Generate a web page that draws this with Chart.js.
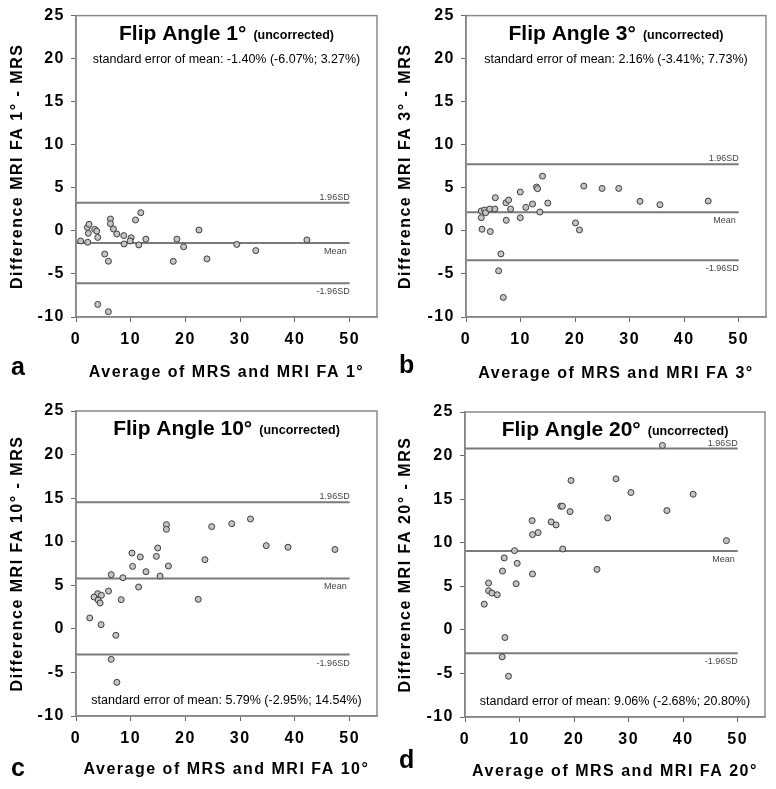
<!DOCTYPE html>
<html>
<head>
<meta charset="utf-8">
<script src="https://cdn.jsdelivr.net/npm/chart.js@4.4.1/dist/chart.umd.min.js"></script>
<style>
  body { margin: 0; background: #fff; }
  #wrap { position: relative; width: 776px; height: 789px; }
  canvas { position: absolute; }
</style>
</head>
<body>
<div id="wrap">
  <canvas id="chartA" width="388" height="395" style="left:0;top:0"></canvas>
  <canvas id="chartB" width="388" height="395" style="left:388px;top:0"></canvas>
  <canvas id="chartC" width="388" height="394" style="left:0;top:395px"></canvas>
  <canvas id="chartD" width="388" height="394" style="left:388px;top:395px"></canvas>
</div>
<script>
const xTicks = [0, 10, 20, 30, 40, 50];

// Bland-Altman points: average (x) vs difference (y), one pair of arrays per flip angle
const fa1X = [0.85, 2.14, 2.08, 2.38, 2.26, 3.42, 3.79, 3.97, 5.25, 5.92, 6.29, 6.29, 6.84, 7.45, 8.73, 8.79,
  10.07, 9.89, 10.87, 11.84, 11.48, 12.76, 3.97, 5.92, 17.77, 18.44, 19.66, 22.47, 23.93, 29.37, 32.85, 42.19];
const fa1Y = [-1.17, -1.32, 0.40, 0.77, -0.28, 0.18, -0.03, -0.76, -2.69, -3.52, 1.38, 0.84, 0.22, -0.36, -0.55, -1.52,
  -0.80, -1.17, 1.27, 2.11, -1.63, -0.96, -8.54, -9.39, -3.54, -0.96, -1.85, 0.10, -3.25, -1.57, -2.29, -1.05];

const fa3X = [2.8, 2.8, 2.93, 3.42, 3.6, 4.34, 4.46, 5.3, 5.37, 6.4, 5.98, 6.84, 7.32, 7.81, 8.18, 7.38, 9.95,
  9.95, 10.97, 12.2, 12.93, 13.12, 14.03, 13.54, 15.0, 20.07, 20.8, 21.6, 24.95, 28.0, 31.9, 35.55, 44.4];
const fa3Y = [2.31, 1.53, 0.19, 2.42, 2.11, 2.54, -0.08, 2.54, 3.85, -2.67, -4.64, -7.73, 3.27, 3.58, 2.54, 1.23, 4.51,
  1.53, 2.73, 3.12, 5.09, 4.9, 6.36, 2.19, 3.23, 0.92, 0.11, 5.2, 4.93, 4.93, 3.43, 3.04, 3.46];

const fa10X = [16.52, 16.52, 24.79, 28.46, 31.88, 34.76, 10.22, 14.93, 11.75, 14.69, 10.34, 16.89, 23.56, 12.79, 15.36,
  6.43, 8.57, 11.44, 5.94, 3.98, 3.30, 4.65, 4.04, 4.41, 8.26, 22.34, 2.51, 4.59, 7.28, 6.43, 7.47, 38.74, 47.31];
const fa10Y = [11.96, 11.42, 11.73, 12.07, 12.61, 9.55, 8.70, 9.28, 8.25, 8.32, 7.17, 7.21, 7.94, 6.56, 6.06,
  6.22, 5.87, 4.80, 4.34, 4.04, 3.65, 3.85, 3.31, 2.97, 3.35, 3.39, 1.25, 0.48, -0.74, -3.50, -6.14, 9.37, 9.11];

const fa20X = [36.2, 19.44, 27.68, 30.42, 17.55, 17.86, 19.26, 26.15, 12.31, 15.79, 16.70, 12.37, 13.41, 17.92, 9.08,
  7.19, 9.57, 6.88, 12.37, 24.2, 9.38, 4.32, 4.32, 4.93, 5.91, 3.53, 7.31, 6.82, 7.98, 37.01, 41.83, 47.93];
const fa20Y = [21.16, 17.14, 17.33, 15.76, 14.19, 14.19, 13.57, 12.85, 12.54, 12.39, 12.04, 10.93, 11.16, 9.28, 9.09,
  8.25, 7.63, 6.75, 6.41, 6.94, 5.29, 5.37, 4.49, 4.22, 4.03, 2.95, -0.88, -3.10, -5.32, 13.69, 15.57, 10.24];

// mean, -1.96SD, +1.96SD
const fa1Stats = [-1.40, -6.07, 3.27];
const fa3Stats = [2.16, -3.41, 7.73];
const fa10Stats = [5.79, -2.95, 14.54];
const fa20Stats = [9.06, -2.68, 20.80];

const FONT = '"Liberation Sans", Arial, Helvetica, sans-serif';
Chart.defaults.font.family = FONT;
Chart.defaults.color = "#000";

const panels = [
  { id: "chartA", letter: "a", angle: "1°", xs: fa1X, ys: fa1Y, stats: fa1Stats, semTop: true,
    area: { left: 76, top: 15, right: 377, bottom: 317 }, letterY: 375, titleGap: 13 },
  { id: "chartB", letter: "b", angle: "3°", xs: fa3X, ys: fa3Y, stats: fa3Stats, semTop: true,
    area: { left: 78, top: 15, right: 378, bottom: 317 }, letterY: 373, titleGap: 12 },
  { id: "chartC", letter: "c", angle: "10°", xs: fa10X, ys: fa10Y, stats: fa10Stats, semTop: false,
    area: { left: 76, top: 16, right: 377, bottom: 321 }, letterY: 381, titleGap: 10 },
  { id: "chartD", letter: "d", angle: "20°", xs: fa20X, ys: fa20Y, stats: fa20Stats, semTop: false,
    area: { left: 77, top: 17, right: 377, bottom: 322 }, letterY: 373, titleGap: 8 },
];

function pct(v) {
  return v.toFixed(2) + "%";
}

const annotations = {
  id: "annotations",
  beforeUpdate(chart) {
    chart.ctx.letterSpacing = "1.5px";
  },
  beforeDraw(chart) {
    chart.ctx.letterSpacing = "1.5px";
  },
  afterDraw(chart, args, opts) {
    const p = opts.panel;
    const { ctx, chartArea: a } = chart;
    const x = chart.scales.x;
    const y = chart.scales.y;
    ctx.save();
    ctx.letterSpacing = "0px";

    // box round the plot
    ctx.strokeStyle = "#8a8a8a";
    ctx.lineWidth = 1.5;
    ctx.strokeRect(a.left, a.top, a.right - a.left, a.bottom - a.top);

    const cx = (a.left + a.right) / 2;
    ctx.fillStyle = "#000";
    ctx.textAlign = "left";
    ctx.textBaseline = "alphabetic";

    // title
    const big = "bold 21px " + FONT;
    const small = "bold 12.5px " + FONT;
    const t1 = "Flip Angle " + p.angle;
    const t2 = "(uncorrected)";
    ctx.font = big;
    const w1 = ctx.measureText(t1).width;
    ctx.font = small;
    const w2 = ctx.measureText(t2).width;
    const sx = cx - (w1 + 7 + w2) / 2;
    ctx.font = big;
    ctx.fillText(t1, sx, a.top + 24);
    ctx.font = small;
    ctx.fillText(t2, sx + w1 + 7, a.top + 23);

    // standard error text
    const [mean, lo, hi] = p.stats;
    ctx.font = "12.5px " + FONT;
    ctx.textAlign = "center";
    const sem = "standard error of mean: " + pct(mean) + " (" + pct(lo) + "; " + pct(hi) + ")";
    ctx.fillText(sem, cx, p.semTop ? a.top + 47 : a.bottom - 12);

    // labels on reference lines
    const xr = x.getPixelForValue(50);
    ctx.font = "9px " + FONT;
    ctx.fillStyle = "#444";
    ctx.textAlign = "right";
    ctx.textBaseline = "bottom";
    ctx.fillText("1.96SD", xr, y.getPixelForValue(hi) - 1);
    ctx.textBaseline = "top";
    ctx.fillText("Mean", xr - 3, y.getPixelForValue(mean) + 4);
    ctx.fillText("-1.96SD", xr, y.getPixelForValue(lo) + 4);

    // panel letter
    ctx.fillStyle = "#000";
    ctx.textAlign = "left";
    ctx.textBaseline = "alphabetic";
    ctx.font = "bold 25px " + FONT;
    ctx.fillText(p.letter, 11, p.letterY);
    ctx.restore();
  },
};

function refLine(v) {
  return {
    type: "line",
    data: [{ x: 0, y: v }, { x: 50, y: v }],
    borderColor: "#7a7a7a",
    borderWidth: 2,
    pointRadius: 0,
    fill: false,
  };
}

function renderPanel(p) {
  const canvas = document.getElementById(p.id);
  const w = canvas.width;
  const h = canvas.height;
  new Chart(canvas, {
    type: "scatter",
    data: {
      datasets: [
        {
          data: p.xs.map((v, i) => ({ x: v, y: p.ys[i] })),
          backgroundColor: "#c4c4c4",
          borderColor: "#3c3c3c",
          borderWidth: 1,
          pointRadius: 3,
        },
        refLine(p.stats[0]),
        refLine(p.stats[1]),
        refLine(p.stats[2]),
      ],
    },
    options: {
      responsive: false,
      animation: false,
      devicePixelRatio: 1,
      layout: { padding: { left: 0, top: p.area.top, right: w - p.area.right, bottom: 0 } },
      plugins: {
        legend: { display: false },
        tooltip: { enabled: false },
        annotations: { panel: p },
      },
      scales: {
        x: {
          type: "linear",
          min: 0,
          max: 55,
          afterBuildTicks: (scale) => {
            scale.ticks = xTicks.map((v) => ({ value: v }));
          },
          afterFit: (scale) => {
            scale.height = h - p.area.bottom;
          },
          grid: { drawOnChartArea: false, tickLength: 5, color: "#666" },
          border: { color: "#7a7a7a", width: 1.5 },
          ticks: { padding: 8, font: { size: 16, weight: "bold" }, color: "#000" },
          title: {
            display: true,
            text: "Average of MRS and MRI FA " + p.angle,
            font: { size: 16, weight: "bold" },
            color: "#000",
            padding: { top: 0, bottom: p.titleGap },
          },
        },
        y: {
          min: -10,
          max: 25,
          ticks: { stepSize: 5, padding: 6, font: { size: 16, weight: "bold" }, color: "#000" },
          afterFit: (scale) => {
            scale.width = p.area.left;
          },
          grid: { drawOnChartArea: false, tickLength: 5, color: "#666" },
          border: { color: "#7a7a7a", width: 1.5 },
          title: {
            display: true,
            text: "Difference MRI FA " + p.angle + " - MRS",
            font: { size: 16, weight: "bold" },
            color: "#000",
            padding: { top: 8, bottom: 0 },
          },
        },
      },
    },
    plugins: [annotations],
  });
}

panels.forEach(renderPanel);
</script>
</body>
</html>
